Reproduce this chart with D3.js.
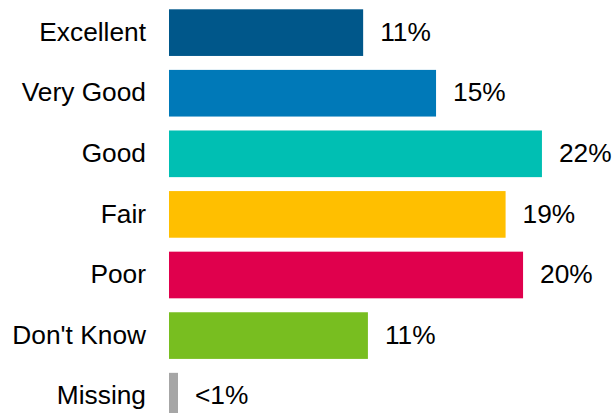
<!DOCTYPE html>
<html><head><meta charset="utf-8">
<script src="https://cdn.jsdelivr.net/npm/d3@7"></script>
<style>html,body{margin:0;padding:0;background:#fff;overflow:hidden}</style>
</head><body>
<script>
const categories = ["Excellent","Very Good","Good","Fair","Poor","Don't Know","Missing"];
const values = [11.0, 15.13, 21.13, 19.07, 20.06, 11.27, 0.51];
const valueLabels = ["11%","15%","22%","19%","20%","11%","<1%"];
const colors = ["#00578A","#0079B8","#00BFB3","#FFBF00","#E0004D","#78BE20","#A6A6A6"];

const W = 613, H = 413;
const svg = d3.select("body").append("svg").attr("width", W).attr("height", H);
const x = d3.scaleLinear().domain([0, 25]).range([169, 169 + 25*17.65]);
const y = d3.scaleBand().domain(categories).range([9.3, 419.5]).paddingInner(0.23).paddingOuter(0);

const g = svg.selectAll("g.row").data(categories).enter().append("g");
g.append("rect")
  .attr("x", x(0))
  .attr("y", d => y(d))
  .attr("width", (d,i) => x(values[i]) - x(0))
  .attr("height", y.bandwidth())
  .attr("fill", (d,i) => colors[i]);
g.append("text")
  .attr("x", 146)
  .attr("y", d => y(d) + y.bandwidth()/2)
  .attr("dy", "0.31em")
  .attr("text-anchor", "end")
  .attr("font-family", "Liberation Sans, Arial, sans-serif")
  .attr("font-size", 26.3)
  .attr("fill", "#000")
  .text(d => d);
g.append("text")
  .attr("x", (d,i) => x(values[i]) + 17)
  .attr("y", d => y(d) + y.bandwidth()/2)
  .attr("dy", "0.31em")
  .attr("font-family", "Liberation Sans, Arial, sans-serif")
  .attr("font-size", 26.3)
  .attr("fill", "#000")
  .text((d,i) => valueLabels[i]);
</script>
</body></html>
